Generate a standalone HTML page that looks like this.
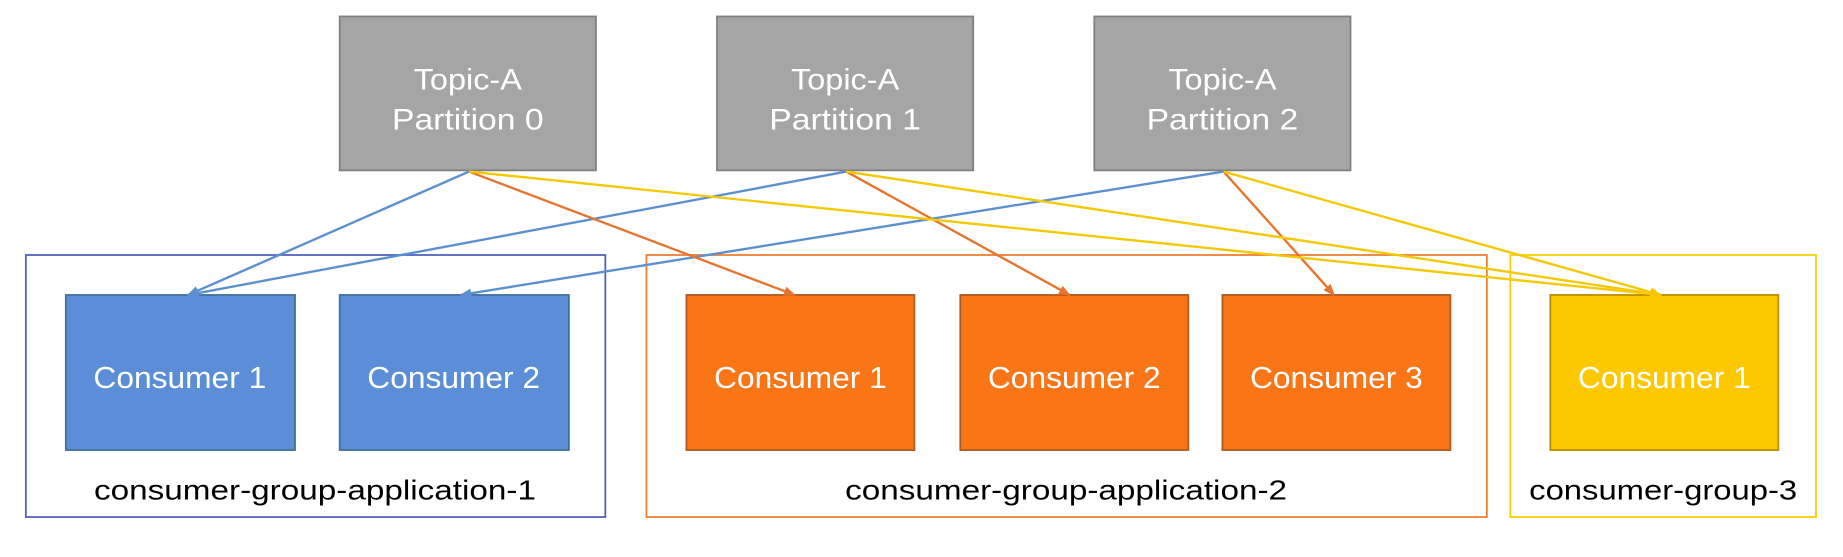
<!DOCTYPE html>
<html><head><style>html,body{margin:0;padding:0;background:#fff}svg{display:block}</style></head>
<body>
<svg width="1843" height="557" viewBox="0 0 1568 474" preserveAspectRatio="none" xmlns="http://www.w3.org/2000/svg" font-family="Liberation Sans, sans-serif">
<defs>
<marker id="ab" markerWidth="10" markerHeight="10" refX="9" refY="5" orient="auto" markerUnits="userSpaceOnUse"><path d="M0,1 L10,5 L0,9 z" fill="#5b8fd0"/></marker>
<marker id="ao" markerWidth="10" markerHeight="10" refX="9" refY="5" orient="auto" markerUnits="userSpaceOnUse"><path d="M0,1 L10,5 L0,9 z" fill="#e5742f"/></marker>
<marker id="ay" markerWidth="10" markerHeight="10" refX="9" refY="5" orient="auto" markerUnits="userSpaceOnUse"><path d="M0,1 L10,5 L0,9 z" fill="#f5c800"/></marker>
</defs>
<rect x="22" y="217" width="493" height="223" fill="none" stroke="#4f5fbf" stroke-width="1.5"/>
<rect x="550" y="217" width="715" height="223" fill="none" stroke="#ed7d31" stroke-width="1.5"/>
<rect x="1285" y="217" width="260" height="223" fill="none" stroke="#f5d000" stroke-width="1.5"/>
<g fill="#a5a5a5" stroke="#7f7f7f" stroke-width="1.5">
<rect x="289" y="14" width="218" height="131"/>
<rect x="610" y="14" width="218" height="131"/>
<rect x="931" y="14" width="218" height="131"/>
</g>
<g fill="#fff" font-size="25" text-anchor="middle" lengthAdjust="spacingAndGlyphs">
<text x="398" y="76" textLength="92" lengthAdjust="spacingAndGlyphs">Topic-A</text><text x="398" y="110" textLength="129" lengthAdjust="spacingAndGlyphs">Partition 0</text>
<text x="719" y="76" textLength="92" lengthAdjust="spacingAndGlyphs">Topic-A</text><text x="719" y="110" textLength="129" lengthAdjust="spacingAndGlyphs">Partition 1</text>
<text x="1040" y="76" textLength="92" lengthAdjust="spacingAndGlyphs">Topic-A</text><text x="1040" y="110" textLength="129" lengthAdjust="spacingAndGlyphs">Partition 2</text>
</g>
<g stroke-width="1.5">
<rect x="56" y="251" width="195" height="132" fill="#5b8ed6" stroke="#41719c"/>
<rect x="289" y="251" width="195" height="132" fill="#5b8ed6" stroke="#41719c"/>
<rect x="584" y="251" width="194" height="132" fill="#f97516" stroke="#ae5a21"/>
<rect x="817" y="251" width="194" height="132" fill="#f97516" stroke="#ae5a21"/>
<rect x="1040" y="251" width="194" height="132" fill="#f97516" stroke="#ae5a21"/>
<rect x="1319" y="251" width="194" height="132" fill="#fdc800" stroke="#bc8c00"/>
</g>
<g fill="#fff" font-size="26" text-anchor="middle">
<text x="153" y="330" textLength="147" lengthAdjust="spacingAndGlyphs">Consumer 1</text>
<text x="386" y="330" textLength="147" lengthAdjust="spacingAndGlyphs">Consumer 2</text>
<text x="681" y="330" textLength="147" lengthAdjust="spacingAndGlyphs">Consumer 1</text>
<text x="914" y="330" textLength="147" lengthAdjust="spacingAndGlyphs">Consumer 2</text>
<text x="1137" y="330" textLength="147" lengthAdjust="spacingAndGlyphs">Consumer 3</text>
<text x="1416" y="330" textLength="147" lengthAdjust="spacingAndGlyphs">Consumer 1</text>
</g>
<g fill="#000" font-size="24" text-anchor="middle">
<text x="268" y="425" textLength="376" lengthAdjust="spacingAndGlyphs">consumer-group-application-1</text>
<text x="907" y="425" textLength="376" lengthAdjust="spacingAndGlyphs">consumer-group-application-2</text>
<text x="1415" y="425" textLength="228" lengthAdjust="spacingAndGlyphs">consumer-group-3</text>
</g>
<g fill="none" stroke-width="2">
<line x1="399" y1="146" x2="160" y2="251" stroke="#5b8fd0" marker-end="url(#ab)"/>
<line x1="720" y1="146" x2="160" y2="251" stroke="#5b8fd0" marker-end="url(#ab)"/>
<line x1="1041" y1="146" x2="392" y2="251" stroke="#5b8fd0" marker-end="url(#ab)"/>
<line x1="399" y1="146" x2="676" y2="251" stroke="#e5742f" marker-end="url(#ao)"/>
<line x1="720" y1="146" x2="910" y2="251" stroke="#e5742f" marker-end="url(#ao)"/>
<line x1="1041" y1="146" x2="1135" y2="251" stroke="#e5742f" marker-end="url(#ao)"/>
<line x1="399" y1="146" x2="1413" y2="251" stroke="#f5c800" marker-end="url(#ay)"/>
<line x1="720" y1="146" x2="1413" y2="251" stroke="#f5c800" marker-end="url(#ay)"/>
<line x1="1041" y1="146" x2="1413" y2="251" stroke="#f5c800" marker-end="url(#ay)"/>
</g>
</svg>
</body></html>
